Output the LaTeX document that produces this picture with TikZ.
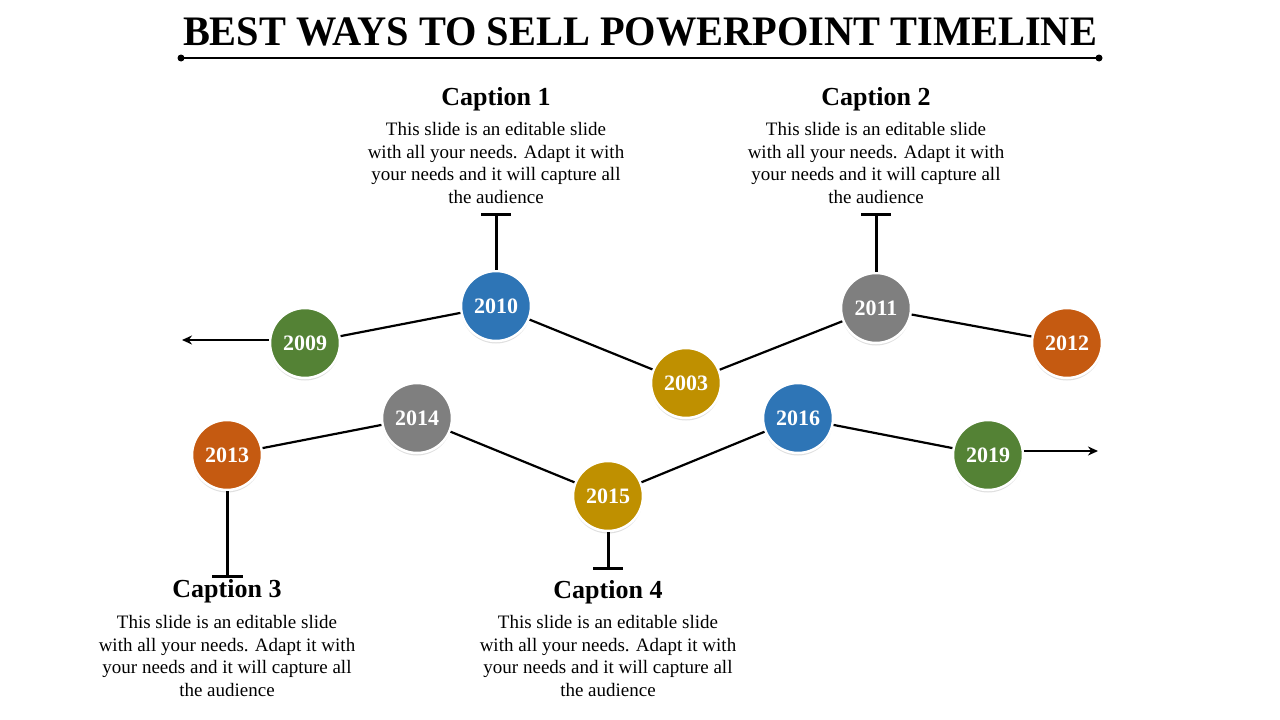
\documentclass[tikz,border=0pt]{standalone}
\usepackage{fontspec}
\setmainfont{Liberation Serif}
\usetikzlibrary{arrows.meta,shadows}
\definecolor{cgreen}{HTML}{548235}
\definecolor{cblue}{HTML}{2E75B6}
\definecolor{cgold}{HTML}{BF9000}
\definecolor{cgray}{HTML}{7F7F7F}
\definecolor{corange}{HTML}{C55A11}
\tikzset{
  yr/.style={circle, minimum size=70pt, inner sep=0pt, fill=#1, draw=white, line width=2.5pt,
    text=white, font=\fontsize{22}{22}\selectfont\bfseries,
    drop shadow={shadow xshift=0pt, shadow yshift=-2.5pt, opacity=0.12, fill=black}},
  link/.style={line width=2.2pt, black},
  stem/.style={line width=3pt, black},
  caphead/.style={font=\fontsize{26}{26}\selectfont\bfseries, align=center},
  captext/.style={font=\fontsize{19}{22.5}\selectfont, align=center},
}
\newcommand{\capbody}{This slide is an editable slide\\with all your needs. Adapt it with\\your needs and it will capture all\\the audience}
\begin{document}
\begin{tikzpicture}[x=1pt,y=-1pt]
\useasboundingbox[fill=white] (0,0) rectangle (1280,720);
% title
\node[inner sep=0pt] (title) at (640,31.5) {\resizebox{914pt}{\height}{\fontsize{42}{42}\selectfont\bfseries BEST WAYS TO SELL POWERPOINT TIMELINE}};
\coordinate (rl) at (181,58);
\coordinate (rr) at (1099,58);
\draw[line width=2.2pt] (rl) -- (rr);
\fill (rl) circle (3.5pt);
\fill (rr) circle (3.5pt);
% year circles
\node[yr=cgreen]  (y2009) at (305,343) {2009};
\node[yr=cblue]   (y2010) at (496,306) {2010};
\node[yr=cgold]   (y2003) at (686,383) {2003};
\node[yr=cgray]   (y2011) at (876,308) {2011};
\node[yr=corange] (y2012) at (1067,343) {2012};
\node[yr=corange] (y2013) at (227,455) {2013};
\node[yr=cgray]   (y2014) at (417,418) {2014};
\node[yr=cgold]   (y2015) at (608,496) {2015};
\node[yr=cblue]   (y2016) at (798,418) {2016};
\node[yr=cgreen]  (y2019) at (988,455) {2019};
% links
\draw[link] (y2009) -- (y2010);
\draw[link] (y2010) -- (y2003);
\draw[link] (y2003) -- (y2011);
\draw[link] (y2011) -- (y2012);
\draw[link] (y2013) -- (y2014);
\draw[link] (y2014) -- (y2015);
\draw[link] (y2015) -- (y2016);
\draw[link] (y2016) -- (y2019);
\coordinate (aL) at (182,340);
\coordinate (aR) at (1098,451);
\draw[link,-{Stealth[length=10pt,width=9pt]}] (y2009.west |- aL) -- (aL);
\draw[link,-{Stealth[length=10pt,width=9pt]}] (y2019.east |- aR) -- (aR);
% stems
\coordinate (s1) at (496,214); \coordinate (s1a) at (481,214); \coordinate (s1b) at (511,214);
\coordinate (s2) at (876,214); \coordinate (s2a) at (861,214); \coordinate (s2b) at (891,214);
\coordinate (s3) at (227,576); \coordinate (s3a) at (212,576); \coordinate (s3b) at (243,576);
\coordinate (s4) at (608,568); \coordinate (s4a) at (593,568); \coordinate (s4b) at (623,568);
\draw[stem] (y2010) -- (s1); \draw[stem] (s1a) -- (s1b);
\draw[stem] (y2011) -- (s2); \draw[stem] (s2a) -- (s2b);
\draw[stem] (y2013) -- (s3); \draw[stem] (s3a) -- (s3b);
\draw[stem] (y2015) -- (s4); \draw[stem] (s4a) -- (s4b);
% captions
\node[caphead] (h1) at (496,99) {Caption 1};
\node[captext] (t1) at (496,163) {\capbody};
\node[caphead] (h2) at (876,99) {Caption 2};
\node[captext] (t2) at (876,163) {\capbody};
\node[caphead] (h3) at (227,591) {Caption 3};
\node[captext] (t3) at (227,656) {\capbody};
\node[caphead] (h4) at (608,592) {Caption 4};
\node[captext] (t4) at (608,656) {\capbody};
\end{tikzpicture}
\end{document}
